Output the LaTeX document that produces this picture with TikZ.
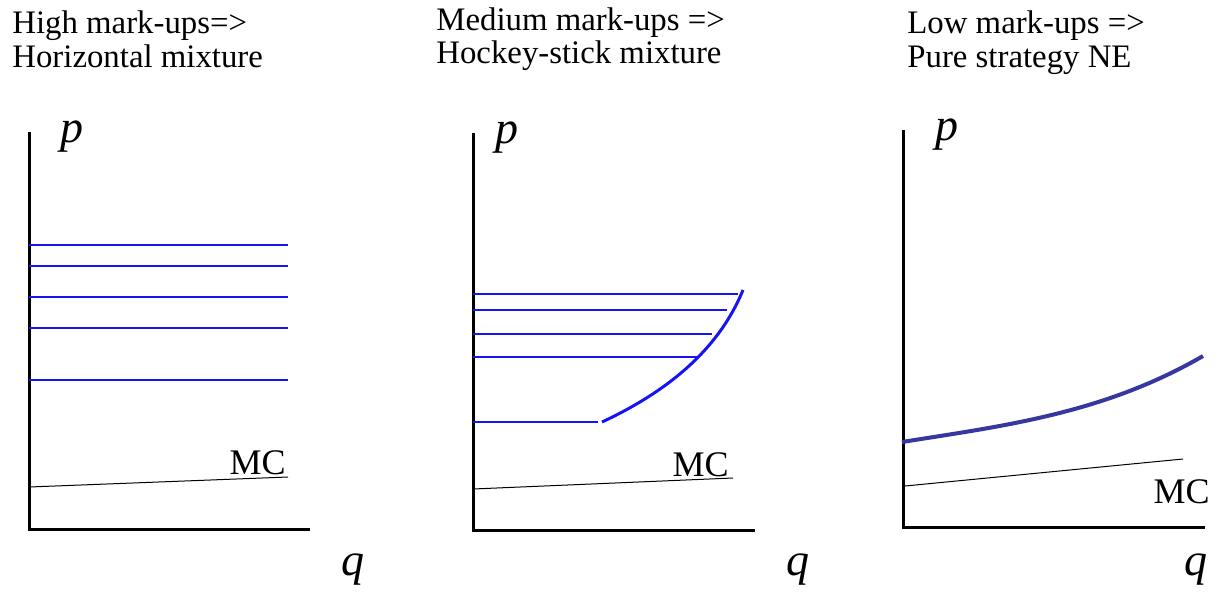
\documentclass[tikz,border=0pt]{standalone}
\usepackage{fontspec}
\setmainfont{Liberation Serif}
\usepackage{tikz}
\usepackage{xcolor}
\usetikzlibrary{arrows.meta,calc}
\definecolor{markblue}{RGB}{20,20,245}
\definecolor{neblue}{RGB}{55,55,160}
\tikzset{
  axis/.style={draw=black, line width=1.5pt},
  mcline/.style={draw=black, line width=0.5pt},
  markup/.style={draw=markblue, line width=0.8pt},
  hockey/.style={draw=markblue, line width=1.5pt},
  pureNE/.style={draw=neblue, line width=2pt},
  title/.style={anchor=base west, inner sep=0pt, font=\fontsize{16.4}{18}\selectfont},
  mclabel/.style={anchor=base east, inner sep=0pt, font=\fontsize{18}{20}\selectfont},
  varlabel/.style={inner sep=0pt, font=\fontsize{23}{25}\selectfont\itshape},
}

\begin{document}
\begin{tikzpicture}[x=0.5pt, y=-0.5pt]
  \useasboundingbox (0,0) rectangle (1219,594);
  % titles
  \node[title] (t1a) at (12,33) {High mark-ups=>};
  \node[title] (t1b) at (12,67) {Horizontal mixture};
  \node[title] (t2a) at (436,31) {Medium mark-ups =>};
  \node[title] (t2b) at (436,63) {Hockey-stick mixture};
  \node[title] (t3a) at (907,33) {Low mark-ups =>};
  \node[title] (t3b) at (907,67) {Pure strategy NE};

  % high mark-ups: horizontal mixture
  \coordinate (o1) at (29,529);
  \draw[axis] (29,132) -- (o1) -- (310,529);
  \foreach \y in {245,266,297,328,380}
    \draw[markup] (29,\y) -- (288,\y);
  \draw[mcline] (29,487) -- (288,477);
  \node[mclabel] (mc1) at (286,474) {MC};
  \node[varlabel] (p1) at (72,137) {p};
  \node[varlabel] (q1) at (353,570) {q};

  % medium mark-ups: hockey-stick mixture
  \coordinate (o2) at (473,530);
  \draw[axis] (473,133) -- (o2) -- (755,530);
  \foreach \y/\x in {294/738,310/727,334/712,357/697,422/598}
    \draw[markup] (473,\y) -- (\x,\y);
  \draw[hockey] (602,422) .. controls (675,388) and (721,344) .. (743,290);
  \draw[mcline] (473,489) -- (733,478);
  \node[mclabel] (mc2) at (729,476) {MC};
  \node[varlabel] (p2) at (507,138) {p};
  \node[varlabel] (q2) at (798,570) {q};

  % low mark-ups: pure strategy NE
  \coordinate (o3) at (903,527);
  \draw[axis] (903,130) -- (o3) -- (1205,527);
  \draw[pureNE] (902,442) .. controls (1002,426) and (1103,414) .. (1203,356);
  \draw[mcline] (905,486) -- (1183,459);
  \node[mclabel] (mc3) at (1210,503) {MC};
  \node[varlabel] (p3) at (947,135) {p};
  \node[varlabel] (q3) at (1196,570) {q};
\end{tikzpicture}
\end{document}
